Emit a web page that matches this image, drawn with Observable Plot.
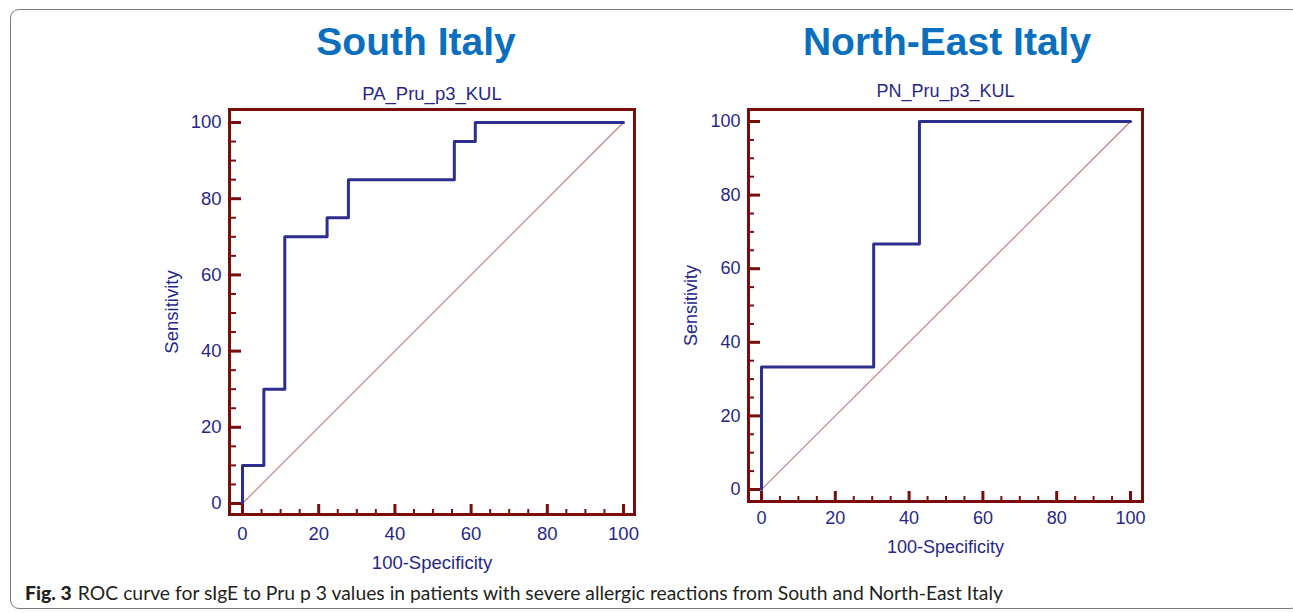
<!DOCTYPE html>
<html>
<head>
<meta charset="utf-8">
<script src="https://cdn.jsdelivr.net/npm/d3@7"></script>
<script src="https://cdn.jsdelivr.net/npm/@observablehq/plot@0.6"></script>
<style>
  html, body { margin: 0; padding: 0; background: #fff; }
  #wrap { position: relative; width: 1293px; height: 613px; overflow: hidden; font-family: "Liberation Sans", Arial, sans-serif; }
  #border { position: absolute; left: 10px; top: 9px; width: 1290px; height: 600px; border: 1.5px solid #7a7a7a; border-radius: 9px; box-sizing: border-box; }
  .title { position: absolute; top: 20px; font-family: "Liberation Sans", Arial, sans-serif; font-weight: bold; font-size: 39px; color: #0b6fc0; transform: translateX(-50%); white-space: nowrap; }
  .plot { position: absolute; }
  #caption { position: absolute; left: 25px; top: 582px; font-family: "Lato", "Open Sans", sans-serif; font-size: 18.5px; color: #231f20; white-space: nowrap; transform-origin: 0 0; }
  #caption b { font-weight: 900; margin-right: 6px; }
</style>
</head>
<body>
<div id="wrap">
  <div id="border"></div>
  <div class="title" id="t1" style="left:416px"></div>
  <div class="title" id="t2" style="left:947px"></div>
  <div class="plot" id="p1" style="left:140px; top:70px"></div>
  <div class="plot" id="p2" style="left:670px; top:70px"></div>
  <div id="caption"></div>
</div>
<script>
// ---- data ----
const panelTitles = ["South Italy", "North-East Italy"];
const markerNames = ["PA_Pru_p3_KUL", "PN_Pru_p3_KUL"];
const xLabel = "100-Specificity";
const yLabel = "Sensitivity";
const captionBold = "Fig. 3";
const captionText = "ROC curve for sIgE to Pru p 3 values in patients with severe allergic reactions from South and North-East Italy";

// ROC operating points (100-Specificity, Sensitivity), South Italy
const southFpr  = [0, 0, 5.6, 11.1, 22.2, 27.8, 55.6, 61.1, 100];
const southSens = [0, 10, 30, 70, 75, 85, 95, 100, 100];
// ROC operating points, North-East Italy
const neFpr  = [0, 0, 30.4, 42.8, 100];
const neSens = [0, 33.3, 66.7, 100, 100];

const majorTicks = [0, 20, 40, 60, 80, 100];
const minorTicks = [5, 10, 15, 25, 30, 35, 45, 50, 55, 65, 70, 75, 85, 90, 95];
const diagonal = [0, 100];

// ---- styles ----
const frameColor = "#7a0c0c";
const navy = "#27278a";
const curveColor = "#2e2e8f";
const diagColor = "#c07878";

function rocPlot(fpr, sens, name, cfg) {
  const pts = fpr.map((x, i) => ({x, y: sens[i]}));
  return Plot.plot({
    width: cfg.width, height: cfg.height,
    marginLeft: cfg.ml, marginRight: cfg.mr, marginTop: cfg.mt, marginBottom: cfg.mb,
    style: {fontFamily: "'Liberation Sans', Arial, sans-serif", fontSize: cfg.fs + "px", color: navy, background: "transparent", overflow: "visible"},
    x: {domain: [0, 100], insetLeft: cfg.il, insetRight: cfg.ir},
    y: {domain: [0, 100], insetTop: cfg.it, insetBottom: cfg.ib},
    marks: [
      Plot.line(diagonal, {x: d => d, y: d => d, stroke: diagColor, strokeWidth: 1.1}),
      Plot.line(pts, {x: "x", y: "y", curve: "step-after", stroke: curveColor, strokeWidth: 3}),
      // minor ticks (inward)
      Plot.axisX({anchor: "bottom", ticks: minorTicks, tickSize: -5, tickFormat: () => "", stroke: frameColor, strokeWidth: 2, label: null}),
      Plot.axisY({anchor: "left", ticks: minorTicks, tickSize: -cfg.minorY, tickFormat: () => "", stroke: frameColor, strokeWidth: 2, label: null}),
      // major ticks (inward)
      Plot.axisX({anchor: "bottom", ticks: majorTicks, tickSize: -10, tickFormat: () => "", stroke: frameColor, strokeWidth: 3, label: null}),
      Plot.axisY({anchor: "left", ticks: majorTicks, tickSize: -12, tickFormat: () => "", stroke: frameColor, strokeWidth: 3, label: null}),
      // tick labels
      Plot.axisX({anchor: "bottom", ticks: majorTicks, tickSize: 0, tickPadding: cfg.xpad, fill: navy, fontSize: cfg.fs, label: null}),
      Plot.axisY({anchor: "left", ticks: majorTicks, tickSize: 0, tickPadding: 8, fill: navy, fontSize: cfg.fs, label: null}),
      Plot.frame({stroke: frameColor, strokeWidth: 3}),
      Plot.text([name], {frameAnchor: "top", dy: cfg.subDy, fill: navy, fontSize: cfg.fs}),
      Plot.text([xLabel], {frameAnchor: "bottom", dy: cfg.xlDy, fill: navy, fontSize: cfg.fs}),
      Plot.text([yLabel], {frameAnchor: "left", dx: -57, rotate: -90, textAnchor: "middle", fill: navy, fontSize: cfg.fs})
    ]
  });
}

document.getElementById("t1").textContent = panelTitles[0];
document.getElementById("t2").textContent = panelTitles[1];

document.getElementById("p1").appendChild(rocPlot(southFpr, southSens, markerNames[0], {
  width: 510, height: 510, ml: 89, mr: 16, mt: 39, mb: 66,
  il: 13, ir: 11, it: 13, ib: 11, fs: 18.5, xpad: 12, subDy: -23, xlDy: 54, minorY: 7
}));
document.getElementById("p2").appendChild(rocPlot(neFpr, neSens, markerNames[1], {
  width: 490, height: 510, ml: 78, mr: 18, mt: 39, mb: 79,
  il: 13, ir: 12, it: 12, ib: 12, fs: 18, xpad: 10, subDy: -25, xlDy: 51, minorY: 6
}));

const cap = document.getElementById("caption");
const b = document.createElement("b");
b.textContent = captionBold;
cap.appendChild(b);
cap.appendChild(document.createTextNode(captionText));
const w = cap.getBoundingClientRect().width;
cap.style.transform = `scaleX(${978 / w})`;
</script>
</body>
</html>
